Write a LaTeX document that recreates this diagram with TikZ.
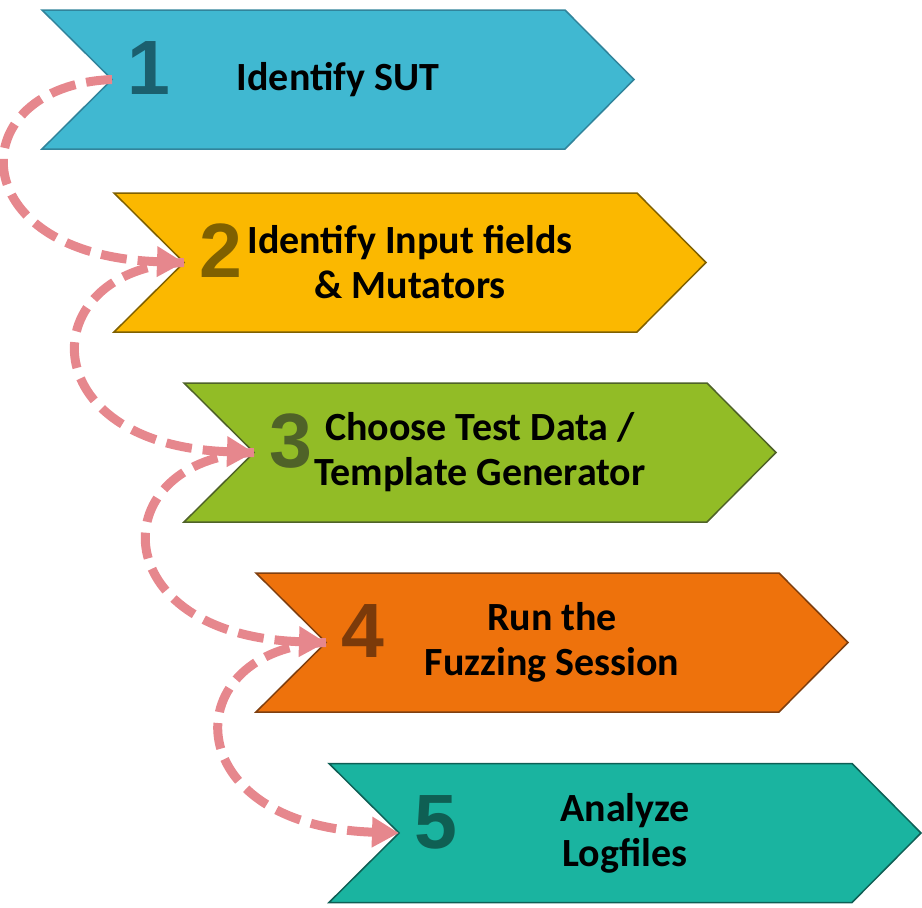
\documentclass[tikz,border=0pt]{standalone}
\usepackage{fontspec}
\setmainfont{Carlito}
\newfontfamily\numfont{Liberation Sans}
\usetikzlibrary{arrows.meta,calc}
\definecolor{f1}{HTML}{40B8D1}\definecolor{d1}{HTML}{31849B}\definecolor{n1c}{HTML}{1B5F6E}
\definecolor{f2}{HTML}{FBB800}\definecolor{d2}{HTML}{7F6000}\definecolor{n2c}{HTML}{7F6000}
\definecolor{f3}{HTML}{92BC26}\definecolor{d3}{HTML}{4F6228}\definecolor{n3c}{HTML}{4F6228}
\definecolor{f4}{HTML}{EE720C}\definecolor{d4}{HTML}{7F3F0F}\definecolor{n4c}{HTML}{7B3A0A}
\definecolor{f5}{HTML}{1AB4A0}\definecolor{d5}{HTML}{0E5F55}\definecolor{n5c}{HTML}{0F5F53}
\definecolor{arr}{HTML}{E6878D}
\tikzset{
  chevshape/.style={line width=1.5pt, line join=miter},
  numtext/.style={font=\numfont\bfseries\fontsize{77}{80}\selectfont, anchor=base, inner sep=0pt},
  steptext/.style={font=\bfseries\fontsize{40}{45}\selectfont, align=center, anchor=center, inner sep=0pt, text=black},
  flowarrow/.style={draw=arr, line width=9pt, dash pattern=on 26pt off 11pt,
     -{Triangle[length=27pt,width=29pt,fill=arr]}}
}
\newcommand{\mychev}[5]{% name, left, top, fill, draw
  \fill[#4, draw=#5, chevshape] (#2,#3) -- ++(523,0) -- ++(69,69.5) -- ++(-69,69.5) -- ++(-523,0) -- ++(70,-69.5) -- cycle;
  \coordinate (#1) at ($(#2,#3)+(70,69.5)$);
}
\begin{document}
\begin{tikzpicture}[x=1pt,y=-1pt]
\useasboundingbox (0,0) rectangle (922,908);
\mychev{n1}{42}{10}{f1}{d1}
\mychev{n2}{114}{193}{f2}{d2}
\mychev{n3}{184}{383}{f3}{d3}
\mychev{n4}{256}{573}{f4}{d4}
\mychev{n5}{329}{763.5}{f5}{d5}
% numbers
\node[numtext, text=n1c] (k1) at ($(n1)+(37,15)$) {1};
\node[numtext, text=n2c] (k2) at ($(n2)+(37,15)$) {2};
\node[numtext, text=n3c] (k3) at ($(n3)+(37,15)$) {3};
\node[numtext, text=n4c] (k4) at ($(n4)+(37,15)$) {4};
\node[numtext, text=n5c] (k5) at ($(n5)+(37,15)$) {5};
% texts
\node[steptext] (t1) at ($(n1)+(226,0)$) {Identify SUT};
\node[steptext] (t2) at ($(n2)+(226,0)$) {Identify Input fields\\\& Mutators};
\node[steptext] (t3) at ($(n3)+(226,0)$) {Choose Test Data /\\Template Generator};
\node[steptext] (t4) at ($(n4)+(226,0)$) {Run the\\Fuzzing Session};
\node[steptext] (t5) at ($(n5)+(226,0)$) {Analyze\\Logfiles};
% arrows
\draw[flowarrow] (n1) .. controls ($(n1)+(-152,6)$) and ($(n2)+(-224,-7)$) .. (n2);
\draw[flowarrow] (n2) .. controls ($(n2)+(-152,6)$) and ($(n3)+(-224,-7)$) .. (n3);
\draw[flowarrow] (n3) .. controls ($(n3)+(-152,6)$) and ($(n4)+(-224,-7)$) .. (n4);
\draw[flowarrow] (n4) .. controls ($(n4)+(-152,6)$) and ($(n5)+(-224,-7)$) .. (n5);
\end{tikzpicture}
\end{document}
